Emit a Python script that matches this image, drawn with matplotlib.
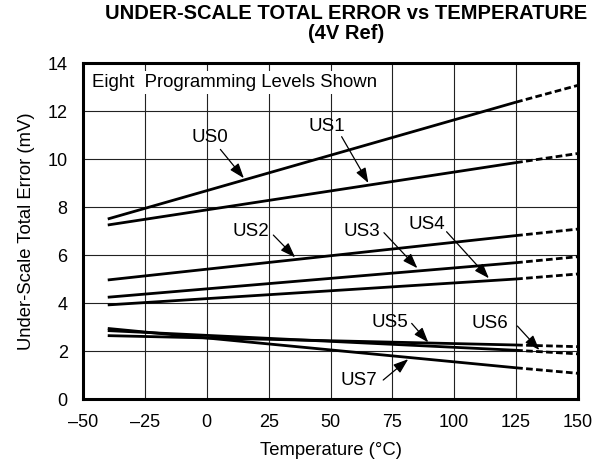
import matplotlib
matplotlib.use("Agg")
import matplotlib.pyplot as plt
import numpy as np

plt.rcParams['font.family'] = ['Liberation Sans', 'DejaVu Sans']

# temperatures where the curves are read: start, end of solid part, end of dashed part
temps = [-40, 125, 150]

us0 = [7.50, 12.37, 13.07]
us1 = [7.25, 9.85, 10.23]
us2 = [4.96, 6.81, 7.08]
us3 = [4.24, 5.68, 5.93]
us4 = [3.92, 5.00, 5.21]
us5 = [2.64, 2.25, 2.18]
us6 = [2.85, 2.03, 1.88]
us7 = [2.94, 1.30, 1.07]
series = [us0, us1, us2, us3, us4, us5, us6, us7]

names = ["US0", "US1", "US2", "US3", "US4", "US5", "US6", "US7"]
# label position, arrow start, arrow tip (data coords)
label_pos = [(1.3, 10.9), (48.6, 11.37), (17.8, 6.97), (62.6, 7.0),
             (88.8, 7.29), (74.0, 3.19), (114.2, 3.15), (61.6, 0.79)]
arrow_from = [(5.5, 10.4), (54.5, 10.93), (26.9, 6.83), (71.6, 6.93),
              (96.9, 6.97), (82.8, 3.15), (125.5, 3.04), (71.3, 0.79)]
arrow_to = [(15.0, 9.2), (65.3, 9.0), (35.7, 5.9), (85.1, 5.45),
            (114.0, 5.03), (89.5, 2.36), (134.4, 2.04), (81.4, 1.66)]

xticks = [-50, -25, 0, 25, 50, 75, 100, 125, 150]
xticklabels = ["\u201350", "\u201325", "0", "25", "50", "75", "100", "125", "150"]
yticks = [0, 2, 4, 6, 8, 10, 12, 14]

fig = plt.figure(figsize=(6.03, 4.68), dpi=100)
ax = fig.add_axes([83 / 603, 1 - 399 / 468, 495 / 603, 336 / 468])

for s in series:
    ax.plot(temps[:2], s[:2], color='black', lw=2.0, solid_capstyle='butt', zorder=3)
    ax.plot(temps[1:], s[1:], color='black', lw=2.0, dashes=(2.4, 1.2), zorder=3)

for name, lp, a0, a1 in zip(names, label_pos, arrow_from, arrow_to):
    ax.text(lp[0], lp[1], name, fontsize=13.5, ha='center', va='center', zorder=5)
    ax.annotate('', xy=a1, xytext=a0,
                arrowprops=dict(arrowstyle='-|>,head_length=0.7,head_width=0.25',
                                color='black', lw=0.9,
                                mutation_scale=13, shrinkA=0, shrinkB=0),
                zorder=5)

ax.text(-46.5, 13.0, "Eight  Programming Levels Shown", fontsize=13.4,
        ha='left', va='baseline', zorder=4,
        bbox=dict(facecolor='white', edgecolor='none', pad=2))

ax.set_xlim(-50, 150)
ax.set_ylim(0, 14)
ax.set_xticks(xticks)
ax.set_xticklabels(xticklabels)
ax.set_yticks(yticks)
ax.grid(True, color='#222222', lw=0.8)
ax.set_axisbelow(True)
ax.tick_params(length=0, labelsize=13, pad=11)
for sp in ax.spines.values():
    sp.set_linewidth(2.2)

ax.set_xlabel("Temperature (\u00b0C)", fontsize=13.3, labelpad=8)
ax.set_ylabel("Under-Scale Total Error (mV)", fontsize=13.3, labelpad=9)

fig.text(346 / 603, 1 - 4 / 468, "UNDER-SCALE TOTAL ERROR vs TEMPERATURE\n(4V Ref)",
         ha='center', va='top', fontsize=14.5, fontweight='bold',
         linespacing=1.05)

fig.savefig("out.png", dpi=100)
